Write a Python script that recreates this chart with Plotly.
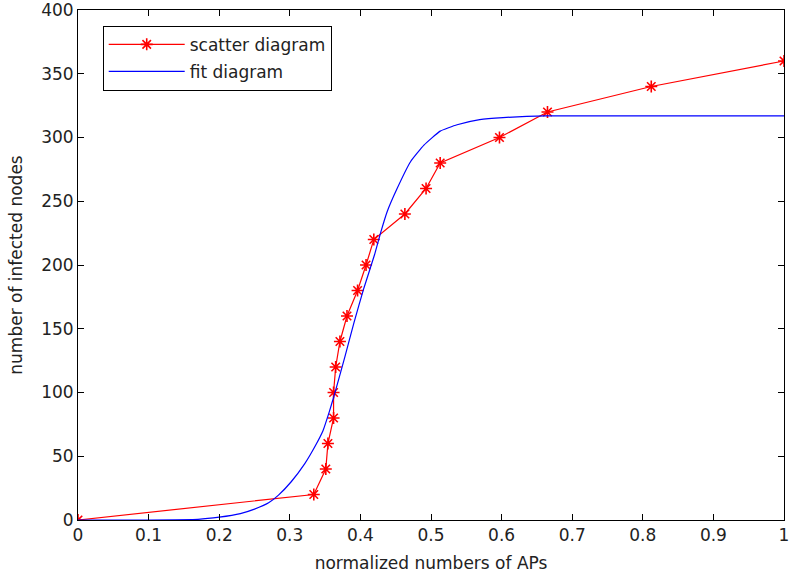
import plotly.graph_objects as go

# Measured infection counts against the normalized number of access points
scatter_x = [0.0, 0.334, 0.351, 0.354, 0.362, 0.362, 0.365, 0.371, 0.381, 0.396,
             0.408, 0.419, 0.463, 0.493, 0.513, 0.597, 0.665, 0.812, 1.0]
scatter_y = [0, 20, 40, 60, 80, 100, 120, 140, 160, 180,
             200, 220, 240, 260, 280, 300, 320, 340, 360]

# Fitted curve, sampled along x
fit_x = [0.0, 0.10, 0.17, 0.20, 0.23, 0.25, 0.27, 0.284, 0.302, 0.321,
         0.335, 0.347, 0.356, 0.363, 0.378, 0.391, 0.405, 0.420, 0.429, 0.438,
         0.452, 0.471, 0.490, 0.513, 0.537, 0.569, 0.602, 0.663, 1.0]
fit_y = [0, 0, 0.5, 2.2, 5, 8.5, 13.5, 19.5, 30, 44,
         57, 70, 85, 98, 128, 155, 182, 208, 226, 242,
         260, 281, 294, 305, 310, 314, 315.6, 317, 317]

x_ticks = [0, 0.1, 0.2, 0.3, 0.4, 0.5, 0.6, 0.7, 0.8, 0.9, 1]
x_tick_text = ["0", "0.1", "0.2", "0.3", "0.4", "0.5", "0.6", "0.7", "0.8", "0.9", "1"]
y_ticks = [0, 50, 100, 150, 200, 250, 300, 350, 400]

FONT = "DejaVu Sans"
TEXT_COLOR = "#222222"

fig = go.Figure()
fig.add_trace(go.Scatter(
    x=scatter_x, y=scatter_y, mode="lines+markers", name="scatter diagram",
    legendgroup="a",
    line=dict(color="#ff0000", width=1.2),
    marker=dict(symbol="asterisk-open", size=10, color="#ff0000",
                line=dict(color="#ff0000", width=1.6)),
))
fig.add_trace(go.Scatter(
    x=fit_x, y=fit_y, mode="lines", name="fit diagram", legendgroup="b",
    line=dict(color="#0000ff", width=1.2, shape="spline", smoothing=0.4),
))

axis_common = dict(
    showgrid=False, zeroline=False, showline=True, linecolor="black", linewidth=1,
    mirror="ticks", ticks="inside", ticklen=6, tickcolor="black", tickwidth=1,
    tickfont=dict(family=FONT, size=17, color=TEXT_COLOR),
    ticklabeloverflow="allow", automargin=False,
)

fig.update_layout(
    width=790, height=577,
    margin=dict(l=78, r=6, t=10, b=57),
    paper_bgcolor="white", plot_bgcolor="white",
    font=dict(family=FONT, size=17, color=TEXT_COLOR),
    xaxis=dict(range=[0, 1], tickvals=x_ticks, ticktext=x_tick_text,
               title=dict(text="normalized numbers of APs",
                          font=dict(family=FONT, size=17, color=TEXT_COLOR),
                          standoff=12),
               **axis_common),
    yaxis=dict(range=[0, 400], tickvals=y_ticks,
               title=dict(text="number of infected nodes",
                          font=dict(family=FONT, size=17, color=TEXT_COLOR),
                          standoff=14),
               **axis_common),
    legend=dict(x=0.035, y=0.969, xanchor="left", yanchor="top",
                bgcolor="white", bordercolor="black", borderwidth=1,
                font=dict(family=FONT, size=17, color=TEXT_COLOR),
                tracegroupgap=2, traceorder="grouped", itemwidth=76),
    showlegend=True,
)

fig.write_html("out.html")
